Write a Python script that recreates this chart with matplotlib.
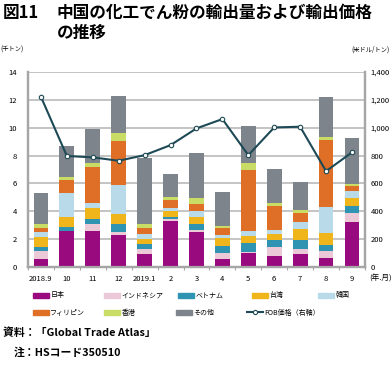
import numpy as np
import matplotlib
matplotlib.use("Agg")
import matplotlib.pyplot as plt
from matplotlib.patches import Patch
from matplotlib.lines import Line2D

plt.rcParams['font.family'] = ['Noto Sans CJK JP', 'DejaVu Sans']

# データ（千トン）
months = ['2018.9', '10', '11', '12', '2019.1', '2', '3', '4', '5', '6', '7', '8', '9']
japan = [0.60, 2.55, 2.57, 2.30, 0.96, 3.29, 2.52, 0.58, 1.03, 0.77, 0.96, 0.67, 3.24]
indonesia = [0.55, 0.05, 0.55, 0.24, 0.31, 0.12, 0.12, 0.42, 0.05, 0.67, 0.31, 0.48, 0.64]
vietnam = [0.28, 0.24, 0.31, 0.53, 0.36, 0.19, 0.45, 0.49, 0.65, 0.48, 0.70, 0.41, 0.53]
taiwan = [0.75, 0.72, 0.81, 0.70, 0.36, 0.40, 0.51, 0.60, 0.50, 0.43, 0.79, 0.89, 0.53]
korea = [0.30, 1.72, 0.32, 2.11, 0.36, 0.27, 0.43, 0.24, 0.34, 0.29, 0.48, 1.87, 0.50]
philippines = [0.34, 0.96, 2.63, 3.18, 0.46, 0.53, 0.48, 0.48, 4.38, 1.75, 0.64, 4.79, 0.36]
hongkong = [0.30, 0.19, 0.31, 0.53, 0.26, 0.24, 0.45, 0.14, 0.51, 0.24, 0.20, 0.24, 0.15]
others = [2.20, 2.25, 2.40, 2.71, 4.77, 1.63, 3.19, 2.40, 2.68, 2.37, 2.04, 2.83, 3.28]
# FOB価格（米ドル/トン）
fob = [1222, 797, 787, 763, 803, 875, 995, 1062, 803, 1002, 1007, 688, 823]

series = [
    ('日本', japan, '#990a7f'),
    ('インドネシア', indonesia, '#ecc9d6'),
    ('ベトナム', vietnam, '#2f94b1'),
    ('台湾', taiwan, '#efb51a'),
    ('韓国', korea, '#b9dbe9'),
    ('フィリピン', philippines, '#df6e26'),
    ('香港', hongkong, '#c9dc66'),
    ('その他', others, '#7e848c'),
]

fig = plt.figure(figsize=(3.92, 3.66), dpi=100)
ax = fig.add_axes([0.0714, 0.2705, 0.8596, 0.5328])
ax2 = ax.twinx()

x = np.arange(len(months))
bottom = np.zeros(len(months))
handles = []
for name, vals, col in series:
    ax.bar(x, vals, 0.57, bottom=bottom, color=col, zorder=3)
    bottom += np.array(vals)
    handles.append(Patch(color=col, label=name))

line_col = '#1d4a56'
ax2.plot(x, fob, color=line_col, lw=1.5, marker='o', ms=3.2,
         mfc='white', mec=line_col, mew=0.8, zorder=5)
handles.append(Line2D([], [], color=line_col, lw=1.5, marker='o', ms=3,
                      mfc='white', mec=line_col, mew=0.8, label='FOB価格（右軸）'))

gray = '#a6a6a6'
ax.set_xlim(-0.5, len(months) - 0.5)
ax.set_ylim(0, 14)
ax.set_yticks(range(0, 15, 2))
ax2.set_ylim(0, 1400)
ax2.set_yticks(range(0, 1401, 200))
ax2.set_yticklabels([f'{v:,}' for v in range(0, 1401, 200)])
ax.yaxis.grid(True, color='#b4b4b4', lw=1.1, zorder=0)
ax.set_axisbelow(True)
ax.set_xticks(x)
ax.set_xticklabels(months)
ax.set_xticks(np.arange(-0.5, len(months)), minor=True)
ax.tick_params(axis='x', which='major', length=0, labelsize=5.5, pad=6)
ax.tick_params(axis='x', which='minor', length=2.5, color=gray, width=0.8)
ax.tick_params(axis='y', length=0, labelsize=5.5, pad=8)
ax2.tick_params(axis='y', length=0, labelsize=5.5, pad=4)
for a in (ax, ax2):
    a.spines['top'].set_visible(False)
    for s in ('left', 'right', 'bottom'):
        a.spines[s].set_color(gray)
        a.spines[s].set_linewidth(1.6)
ax.set_zorder(ax2.get_zorder() - 1)
ax2.patch.set_visible(False)

# タイトル・注記
fig.text(3 / 392, 1 - 13 / 366, '図11', fontsize=12, weight='bold', va='center')
fig.text(57 / 392, 1 - 13 / 366, '中国の化工でん粉の輸出量および輸出価格', fontsize=12,
         weight='bold', va='center')
fig.text(57 / 392, 1 - 33 / 366, 'の推移', fontsize=12, weight='bold', va='center')
fig.text(0 / 392, 1 - 50 / 366, '(千トン)', fontsize=4.5, va='center')
fig.text(390 / 392, 1 - 50 / 366, '(米ドル/トン)', fontsize=4.5, va='center', ha='right')
fig.text(392 / 392, 1 - 279 / 366, '(年.月)', fontsize=5.5, va='center', ha='right')

# 凡例（各項目を個別に配置）
legend_pos = [(33, 295.5), (104, 295.5), (178, 295.5), (252, 295.5), (318, 295.5),
              (33, 312.7), (104, 312.7), (176, 312.7), (247, 312.7)]
for h, (px, py) in zip(handles, legend_pos):
    fig.legend([h], [h.get_label()], loc='center left',
               bbox_to_anchor=(px / 392, 1 - py / 366), frameon=False, fontsize=5,
               handlelength=2.3, handleheight=0.7, handletextpad=0.2,
               borderpad=0, borderaxespad=0)

fig.text(3 / 392, 1 - 333 / 366, '資料：「Global Trade Atlas」', fontsize=7.8,
         weight='bold', va='center')
fig.text(14 / 392, 1 - 352 / 366, '注：HSコード350510', fontsize=7.8,
         weight='bold', va='center')

fig.savefig('out.png', dpi=100)
